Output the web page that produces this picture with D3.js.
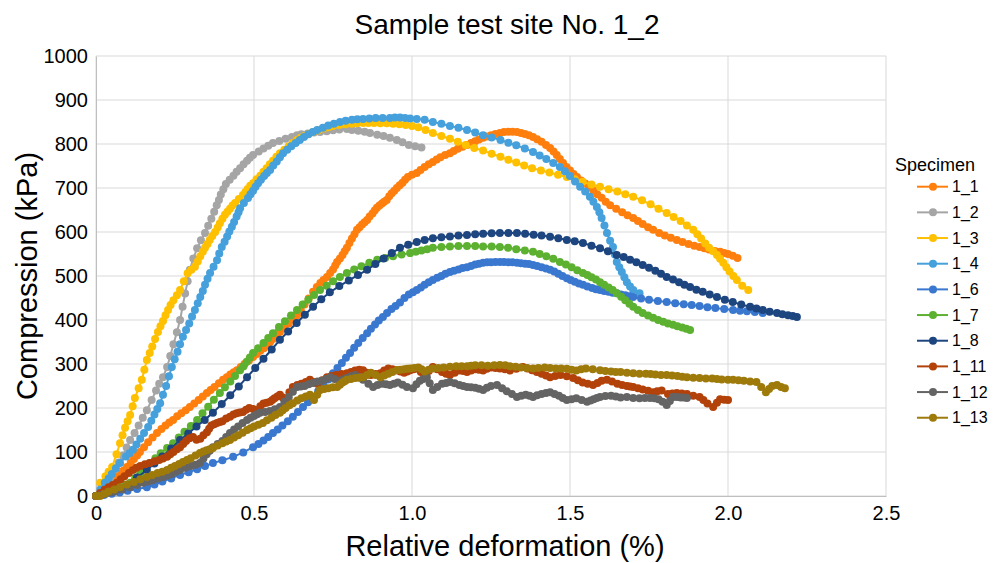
<!DOCTYPE html>
<html>
<head>
<meta charset="utf-8">
<script src="https://cdn.jsdelivr.net/npm/d3@7/dist/d3.min.js"></script>
<style>
  html, body { margin: 0; padding: 0; background: #fff; }
  svg { display: block; font-family: "Liberation Sans", Arial, sans-serif; }
</style>
</head>
<body>
<svg id="chart" width="994" height="563"></svg>
<script>
// Values: [relative deformation %, compression kPa]
const s1_1 = [[0,0],[.015,9],[.03,18],[.042,27],[.054,36],[.065,43],[.075,50],[.087,58],[.098,66],[.11,76],[.12,84],[.13,92],[.139,100],[.152,111],[.165,122],[.179,133],[.193,143],[.207,152],[.22,160],[.232,167],[.244,173],[.257,181],[.27,188],[.284,195],[.297,202],[.311,210],[.325,218],[.338,226],[.351,234],[.363,241],[.375,248],[.389,256],[.402,264],[.414,270],[.425,276],[.436,281],[.446,286],[.458,293],[.47,300],[.484,308],[.497,316],[.509,323],[.52,330],[.531,336],[.541,343],[.551,350],[.56,357],[.571,365],[.582,373],[.596,382],[.61,392],[.623,401],[.636,411],[.648,422],[.66,435],[.673,449],[.687,464],[.699,475],[.71,484],[.72,491],[.731,498],[.741,507],[.75,515],[.757,524],[.763,532],[.772,540],[.78,548],[.787,556],[.794,564],[.802,575],[.81,585],[.818,595],[.826,605],[.834,611],[.842,617],[.85,622],[.858,627],[.866,635],[.875,642],[.882,649],[.889,655],[.897,660],[.905,665],[.912,669],[.92,673],[.928,681],[.936,688],[.944,694],[.952,700],[.961,706],[.97,712],[.978,719],[.987,725],[1.0,730],[1.015,734],[1.027,741],[1.04,748],[1.053,754],[1.066,759],[1.078,765],[1.09,770],[1.105,775],[1.12,779],[1.132,784],[1.145,789],[1.16,794],[1.174,798],[1.187,802],[1.2,806],[1.212,810],[1.225,814],[1.237,817],[1.25,820],[1.264,823],[1.278,825],[1.291,827],[1.305,828],[1.318,828],[1.332,827],[1.345,825],[1.357,823],[1.37,820],[1.383,816],[1.396,811],[1.41,805],[1.424,798],[1.437,791],[1.448,783],[1.458,775],[1.468,766],[1.478,757],[1.489,748],[1.5,740],[1.511,732],[1.522,725],[1.535,717],[1.548,710],[1.56,702],[1.573,695],[1.586,686],[1.6,678],[1.613,669],[1.627,661],[1.646,653],[1.665,645],[1.682,638],[1.70,632],[1.715,625],[1.73,618],[1.747,611],[1.763,605],[1.782,598],[1.8,592],[1.819,587],[1.838,582],[1.856,577],[1.875,573],[1.893,569],[1.91,566],[1.925,563],[1.94,560],[1.958,557],[1.975,555],[1.988,552],[2.0,550],[2.015,546],[2.03,541]];
const s1_2 = [[0,0],[.015,12],[.03,25],[.045,42],[.06,60],[.072,76],[.085,92],[.097,110],[.108,127],[.122,143],[.135,160],[.148,178],[.161,195],[.176,218],[.19,240],[.2,255],[.212,270],[.225,293],[.235,318],[.245,345],[.256,372],[.266,400],[.274,430],[.282,460],[.29,488],[.297,514],[.308,540],[.32,563],[.332,581],[.345,598],[.355,614],[.365,630],[.374,646],[.382,661],[.389,673],[.395,685],[.403,697],[.411,709],[.423,719],[.435,728],[.445,737],[.456,745],[.467,754],[.478,762],[.487,769],[.497,775],[.515,783],[.53,790],[.545,796],[.56,802],[.58,807],[.6,812],[.62,816],[.636,820],[.65,822],[.67,824],[.69,826],[.709,827],[.73,829],[.75,831],[.77,833],[.794,834],[.81,832],[.83,830],[.85,828],[.867,825],[.89,821],[.91,818],[.93,814],[.952,809],[.97,804],[.99,798],[1.01,795],[1.03,792]];
const s1_3 = [[0,0],[.013,30],[.03,45],[.04,55],[.051,66],[.065,95],[.076,120],[.084,138],[.092,155],[.1,170],[.108,184],[.116,204],[.123,223],[.135,245],[.145,264],[.153,287],[.161,309],[.17,325],[.178,340],[.187,357],[.196,373],[.204,386],[.212,398],[.22,411],[.228,423],[.236,434],[.245,445],[.256,456],[.266,468],[.278,488],[.29,506],[.302,514],[.313,521],[.322,533],[.33,545],[.338,555],[.345,564],[.353,573],[.36,582],[.368,591],[.377,600],[.385,610],[.392,620],[.4,630],[.408,639],[.416,646],[.424,653],[.432,660],[.44,666],[.452,675],[.465,684],[.473,691],[.48,698],[.488,705],[.497,711],[.508,720],[.52,728],[.53,737],[.54,745],[.55,754],[.56,762],[.571,771],[.582,779],[.596,787],[.61,795],[.623,802],[.636,809],[.648,814],[.66,818],[.673,823],[.687,827],[.704,831],[.72,835],[.735,838],[.75,841],[.77,843],[.79,845],[.81,846],[.826,847],[.845,848],[.862,848],[.88,848],[.9,847],[.92,847],[.94,846],[.96,845],[.98,843],[1.0,841],[1.02,838],[1.043,832],[1.066,825],[1.093,818],[1.12,812],[1.145,805],[1.17,798],[1.197,791],[1.225,785],[1.252,778],[1.28,771],[1.305,764],[1.33,758],[1.355,751],[1.38,745],[1.408,740],[1.435,735],[1.462,730],[1.49,725],[1.515,720],[1.54,714],[1.568,708],[1.595,703],[1.622,697],[1.65,692],[1.675,686],[1.70,680],[1.728,672],[1.755,663],[1.78,653],[1.806,643],[1.828,634],[1.85,625],[1.87,615],[1.89,605],[1.903,595],[1.915,585],[1.928,574],[1.94,564],[1.953,556],[1.965,548],[1.975,539],[1.985,530],[1.995,520],[2.005,510],[2.017,500],[2.028,491],[2.045,478],[2.064,468]];
const s1_4 = [[0,0],[.014,15],[.028,30],[.04,40],[.05,50],[.063,63],[.076,75],[.095,90],[.106,97],[.117,105],[.128,117],[.14,130],[.152,143],[.165,157],[.175,171],[.185,185],[.194,198],[.203,211],[.212,230],[.222,250],[.231,272],[.24,293],[.249,311],[.258,328],[.266,345],[.275,362],[.285,377],[.295,392],[.304,408],[.313,423],[.322,438],[.33,452],[.338,466],[.345,480],[.353,494],[.361,507],[.372,521],[.383,536],[.39,551],[.398,566],[.407,578],[.415,590],[.422,601],[.43,612],[.437,623],[.445,635],[.451,645],[.456,654],[.468,666],[.481,677],[.489,686],[.497,694],[.505,703],[.513,711],[.522,719],[.532,727],[.541,734],[.551,741],[.561,751],[.572,760],[.582,770],[.592,779],[.605,787],[.618,795],[.632,802],[.645,809],[.658,816],[.672,822],[.686,827],[.70,832],[.718,837],[.735,842],[.753,846],[.772,850],[.79,853],[.81,855],[.827,856],[.845,857],[.865,858],[.885,859],[.907,859],[.93,859],[.946,860],[.962,860],[.978,859],[.994,858],[1.015,857],[1.04,855],[1.066,850],[1.093,846],[1.12,841],[1.147,837],[1.174,832],[1.2,826],[1.225,820],[1.252,815],[1.28,809],[1.305,803],[1.33,797],[1.357,790],[1.383,782],[1.404,774],[1.425,766],[1.447,757],[1.468,748],[1.484,738],[1.5,727],[1.516,715],[1.532,703],[1.548,692],[1.563,680],[1.574,669],[1.585,657],[1.593,645],[1.60,632],[1.609,615],[1.617,598],[1.627,580],[1.636,566],[1.642,549],[1.648,532],[1.656,520],[1.664,509],[1.672,497],[1.68,486],[1.69,476],[1.70,468],[1.72,461]];
const s1_6 = [[0,0],[.025,2],[.05,5],[.075,8],[.1,12],[.13,16],[.161,20],[.185,26],[.21,33],[.238,40],[.266,48],[.293,54],[.32,61],[.345,68],[.37,75],[.4,81],[.434,89],[.466,99],[.497,111],[.514,118],[.53,126],[.545,134],[.56,143],[.575,151],[.59,160],[.607,170],[.623,180],[.639,191],[.655,202],[.671,213],[.687,225],[.703,238],[.72,252],[.735,265],[.75,279],[.764,291],[.778,302],[.791,314],[.804,325],[.817,337],[.83,348],[.844,359],[.858,370],[.87,380],[.883,390],[.895,399],[.908,407],[.921,416],[.935,425],[.948,432],[.962,440],[.976,450],[.99,458],[1.003,463],[1.015,468],[1.028,474],[1.04,480],[1.053,486],[1.066,491],[1.08,496],[1.093,500],[1.106,505],[1.12,509],[1.133,512],[1.147,515],[1.16,518],[1.174,520],[1.187,523],[1.2,526],[1.212,528],[1.225,530],[1.238,531],[1.25,531],[1.264,532],[1.278,532],[1.291,532],[1.305,531],[1.318,531],[1.332,530],[1.345,529],[1.358,528],[1.37,527],[1.383,525],[1.396,523],[1.41,520],[1.424,517],[1.437,514],[1.45,510],[1.463,505],[1.476,500],[1.49,495],[1.502,491],[1.515,487],[1.528,483],[1.541,480],[1.555,476],[1.57,473],[1.582,470],[1.595,468],[1.608,466],[1.622,464],[1.635,462],[1.648,461],[1.661,458],[1.675,456],[1.688,454],[1.70,452],[1.725,449],[1.75,446],[1.778,443],[1.806,441],[1.833,438],[1.86,436],[1.885,434],[1.91,432],[1.935,429],[1.96,427],[1.988,425],[2.016,423],[2.038,421],[2.06,420],[2.085,418],[2.11,416]];
const s1_7 = [[0,0],[.025,6],[.05,12],[.065,16],[.08,20],[.094,25],[.108,30],[.124,41],[.14,52],[.155,63],[.17,75],[.188,86],[.205,97],[.225,109],[.244,120],[.262,133],[.28,146],[.3,159],[.32,173],[.337,188],[.355,203],[.373,219],[.392,234],[.408,247],[.425,260],[.44,273],[.456,286],[.467,295],[.477,305],[.487,315],[.497,325],[.513,336],[.53,348],[.545,359],[.56,370],[.579,384],[.598,397],[.617,410],[.636,423],[.654,435],[.672,446],[.69,457],[.709,468],[.73,478],[.75,488],[.772,498],[.794,507],[.817,515],[.84,522],[.865,530],[.89,537],[.915,541],[.94,545],[.967,549],[.994,552],[1.012,555],[1.03,558],[1.048,561],[1.066,564],[1.093,566],[1.12,567],[1.147,568],[1.174,568],[1.2,568],[1.225,567],[1.252,567],[1.278,566],[1.304,564],[1.33,561],[1.357,558],[1.383,555],[1.404,550],[1.425,545],[1.447,539],[1.468,532],[1.487,526],[1.505,520],[1.523,513],[1.541,507],[1.555,502],[1.568,497],[1.582,492],[1.595,486],[1.608,480],[1.622,474],[1.635,468],[1.648,461],[1.662,453],[1.675,445],[1.688,437],[1.70,430],[1.715,423],[1.73,416],[1.747,410],[1.763,405],[1.779,400],[1.795,396],[1.81,392],[1.826,389],[1.84,386],[1.855,383],[1.868,380],[1.88,377]];
const s1_8 = [[0,0],[.025,5],[.05,10],[.075,17],[.1,25],[.13,42],[.161,59],[.185,74],[.21,90],[.238,108],[.266,127],[.292,142],[.318,158],[.344,173],[.37,189],[.398,209],[.425,229],[.452,249],[.478,270],[.504,291],[.53,312],[.556,333],[.582,355],[.608,374],[.635,393],[.661,412],[.687,430],[.713,447],[.74,463],[.77,477],[.8,490],[.829,502],[.858,514],[.884,527],[.91,540],[.936,552],[.962,564],[.988,571],[1.015,577],[1.04,582],[1.066,586],[1.093,588],[1.12,590],[1.147,592],[1.174,593],[1.2,595],[1.225,596],[1.252,597],[1.278,598],[1.305,598],[1.332,598],[1.358,596],[1.385,594],[1.41,592],[1.437,589],[1.463,586],[1.49,582],[1.515,579],[1.541,575],[1.568,569],[1.595,563],[1.62,556],[1.648,548],[1.67,543],[1.69,537],[1.71,531],[1.73,525],[1.75,519],[1.77,512],[1.788,505],[1.806,498],[1.826,492],[1.845,486],[1.862,480],[1.88,475],[1.9,469],[1.92,464],[1.942,458],[1.965,452],[1.99,446],[2.015,441],[2.042,435],[2.07,430],[2.09,426],[2.11,423],[2.132,419],[2.155,416],[2.172,413],[2.19,411],[2.205,409],[2.218,407]];
const s1_11 = [[0,0],[.013,7],[.027,14],[.04,20],[.053,25],[.066,30],[.078,38],[.09,45],[.104,52],[.117,59],[.128,64],[.14,68],[.155,72],[.17,75],[.185,79],[.2,82],[.212,85],[.225,89],[.235,95],[.245,100],[.256,106],[.266,111],[.276,118],[.285,125],[.296,131],[.307,134],[.318,128],[.33,130],[.34,138],[.351,145],[.358,153],[.365,160],[.374,163],[.383,166],[.392,168],[.4,170],[.412,176],[.424,180],[.435,185],[.445,188],[.455,190],[.465,191],[.475,196],[.485,200],[.497,198],[.509,195],[.52,204],[.53,210],[.54,212],[.551,214],[.558,218],[.565,222],[.574,226],[.582,230],[.591,224],[.6,220],[.612,236],[.623,248],[.637,252],[.65,255],[.664,259],[.677,264],[.688,259],[.7,255],[.716,263],[.731,270],[.745,273],[.76,275],[.777,277],[.794,279],[.807,282],[.82,285],[.833,287],[.845,286],[.857,280],[.87,275],[.885,277],[.9,279],[.912,285],[.925,290],[.938,288],[.952,286],[.963,283],[.975,280],[.985,283],[.994,286],[1.005,288],[1.015,290],[1.028,282],[1.04,275],[1.053,284],[1.066,293],[1.08,288],[1.095,282],[1.108,278],[1.12,275],[1.135,280],[1.15,285],[1.162,284],[1.174,282],[1.187,285],[1.2,288],[1.212,287],[1.225,285],[1.237,289],[1.25,292],[1.264,291],[1.278,290],[1.294,288],[1.31,285],[1.33,289],[1.351,293],[1.365,290],[1.38,286],[1.395,282],[1.41,278],[1.424,274],[1.437,270],[1.453,273],[1.47,275],[1.49,272],[1.51,268],[1.525,263],[1.54,258],[1.556,255],[1.573,252],[1.587,257],[1.6,262],[1.617,264],[1.633,260],[1.65,255],[1.665,252],[1.68,250],[1.69,249],[1.70,248],[1.715,245],[1.73,242],[1.747,239],[1.763,236],[1.776,238],[1.79,240],[1.81,232],[1.824,233],[1.838,234],[1.854,233],[1.87,232],[1.89,228],[1.91,225],[1.922,218],[1.935,210],[1.953,202],[1.965,212],[1.975,220],[1.988,219],[2.0,218]];
const s1_12 = [[0,0],[.015,2],[.03,5],[.045,8],[.06,10],[.084,15],[.108,20],[.13,25],[.15,30],[.165,33],[.18,36],[.196,40],[.212,43],[.226,46],[.24,50],[.253,55],[.266,59],[.283,64],[.3,68],[.315,71],[.329,75],[.34,85],[.35,95],[.36,103],[.37,111],[.385,118],[.4,125],[.412,134],[.424,143],[.437,151],[.45,158],[.464,166],[.478,173],[.489,178],[.5,182],[.51,186],[.519,189],[.535,191],[.55,193],[.566,197],[.582,202],[.596,214],[.61,225],[.623,237],[.636,248],[.648,249],[.66,250],[.673,254],[.687,257],[.701,260],[.715,262],[.728,266],[.741,270],[.755,266],[.77,262],[.782,265],[.794,268],[.807,272],[.82,275],[.833,270],[.845,264],[.862,255],[.877,248],[.891,252],[.905,255],[.918,254],[.93,252],[.943,255],[.955,258],[.97,253],[.984,248],[1.003,245],[1.014,254],[1.025,262],[1.036,266],[1.047,270],[1.056,256],[1.066,241],[1.08,248],[1.095,255],[1.108,257],[1.12,259],[1.135,256],[1.15,252],[1.162,250],[1.174,248],[1.187,247],[1.2,246],[1.212,244],[1.225,241],[1.237,246],[1.25,250],[1.269,252],[1.285,245],[1.3,238],[1.316,232],[1.332,225],[1.346,228],[1.36,230],[1.372,228],[1.383,225],[1.396,229],[1.41,232],[1.424,234],[1.437,236],[1.451,232],[1.465,228],[1.477,223],[1.49,218],[1.505,220],[1.52,222],[1.537,218],[1.554,214],[1.565,217],[1.575,220],[1.585,223],[1.595,225],[1.612,227],[1.63,228],[1.645,226],[1.66,224],[1.68,225],[1.70,223],[1.72,222],[1.737,223],[1.753,223],[1.767,222],[1.78,220],[1.793,214],[1.806,207],[1.816,216],[1.826,225],[1.838,225],[1.85,224],[1.86,224],[1.87,223]];
const s1_13 = [[0,0],[.013,0],[.027,5],[.04,10],[.058,15],[.076,20],[.098,26],[.12,32],[.14,38],[.161,43],[.178,48],[.195,52],[.21,55],[.225,59],[.238,64],[.25,68],[.263,73],[.275,77],[.288,82],[.3,86],[.315,92],[.329,98],[.34,101],[.35,104],[.36,106],[.37,109],[.385,115],[.4,120],[.412,124],[.424,127],[.437,133],[.45,138],[.464,144],[.478,150],[.489,154],[.5,158],[.514,162],[.528,166],[.541,172],[.555,178],[.568,184],[.582,189],[.591,195],[.6,200],[.612,206],[.623,211],[.637,217],[.65,222],[.664,226],[.677,230],[.69,218],[.7,230],[.709,241],[.722,243],[.735,245],[.749,247],[.763,248],[.772,253],[.78,258],[.787,261],[.794,264],[.807,266],[.82,268],[.832,269],[.845,270],[.858,275],[.87,280],[.885,275],[.9,270],[.912,274],[.925,278],[.938,282],[.952,286],[.963,287],[.975,288],[.985,289],[.994,290],[1.007,291],[1.02,292],[1.03,288],[1.04,283],[1.053,287],[1.066,290],[1.083,291],[1.1,292],[1.12,294],[1.14,295],[1.157,295],[1.174,295],[1.187,296],[1.2,297],[1.22,297],[1.24,296],[1.26,297],[1.278,298],[1.295,297],[1.31,295],[1.328,294],[1.345,292],[1.364,291],[1.383,290],[1.4,291],[1.42,292],[1.437,291],[1.455,290],[1.472,290],[1.49,289],[1.505,287],[1.52,285],[1.535,288],[1.55,290],[1.572,288],[1.595,286],[1.612,284],[1.63,283],[1.645,282],[1.66,282],[1.68,280],[1.70,279],[1.72,278],[1.74,278],[1.755,277],[1.77,276],[1.788,275],[1.806,275],[1.823,274],[1.84,273],[1.855,271],[1.87,270],[1.89,269],[1.91,268],[1.93,267],[1.95,267],[1.965,266],[1.98,265],[2.0,264],[2.016,264],[2.033,263],[2.05,262],[2.07,260],[2.09,259],[2.105,248],[2.12,236],[2.13,243],[2.14,250],[2.155,252],[2.168,248],[2.18,245]];

const seriesNames = ['1_1', '1_2', '1_3', '1_4', '1_6', '1_7', '1_8', '1_11', '1_12', '1_13'];
const seriesData = [s1_1, s1_2, s1_3, s1_4, s1_6, s1_7, s1_8, s1_11, s1_12, s1_13];
const seriesColors = ['#ff7f0e', '#a5a5a5', '#ffc000', '#45a0dc', '#3a78d0', '#5db131', '#1d4680', '#b3420a', '#646464', '#9e7a0a'];
const xTicks = [0, 0.5, 1.0, 1.5, 2.0, 2.5];
const yTicks = [0, 100, 200, 300, 400, 500, 600, 700, 800, 900, 1000];

const svg = d3.select('#chart');
const margin = { left: 96, right: 108, top: 56, bottom: 67 };
const W = 994, H = 563;

const x = d3.scaleLinear().domain([0, 2.5]).range([margin.left, W - margin.right]);
const y = d3.scaleLinear().domain([0, 1000]).range([H - margin.bottom, margin.top]);

// Gridlines
svg.append('g')
    .selectAll('line')
    .data(xTicks)
    .join('line')
    .attr('x1', d => x(d)).attr('x2', d => x(d))
    .attr('y1', y(0)).attr('y2', y(1000))
    .attr('stroke', '#d9d9d9').attr('stroke-width', 1);

svg.append('g')
    .selectAll('line')
    .data(yTicks)
    .join('line')
    .attr('x1', x(0)).attr('x2', x(2.5))
    .attr('y1', d => y(d)).attr('y2', d => y(d))
    .attr('stroke', '#d9d9d9').attr('stroke-width', 1);

// Axes
const xAxis = svg.append('g')
    .attr('transform', `translate(0,${y(0)})`)
    .call(d3.axisBottom(x).tickValues(xTicks).tickSize(0).tickPadding(10)
        .tickFormat(d => d === 0 ? '0' : d3.format('.1f')(d)));
xAxis.select('.domain').attr('stroke', '#bfbfbf');

const yAxis = svg.append('g')
    .attr('transform', `translate(${x(0)},0)`)
    .call(d3.axisLeft(y).tickValues(yTicks).tickSize(0).tickPadding(8)
        .tickFormat(d3.format('d')));
yAxis.select('.domain').attr('stroke', '#bfbfbf');

svg.selectAll('.tick text')
    .attr('font-size', 20)
    .attr('fill', '#000')
    .attr('font-family', '"Liberation Sans", Arial, sans-serif');

// Series
const line = d3.line().x(d => x(d[0])).y(d => y(d[1]));

seriesData.forEach((data, i) => {
    const g = svg.append('g');
    g.append('path')
        .datum(data)
        .attr('d', line)
        .attr('fill', 'none')
        .attr('stroke', seriesColors[i])
        .attr('stroke-width', 2);
    g.selectAll('circle')
        .data(data)
        .join('circle')
        .attr('cx', d => x(d[0]))
        .attr('cy', d => y(d[1]))
        .attr('r', 4)
        .attr('fill', seriesColors[i]);
});

// Title and axis titles
svg.append('text')
    .attr('x', 507).attr('y', 34)
    .attr('text-anchor', 'middle')
    .attr('font-size', 28)
    .attr('font-family', '"Liberation Sans Narrow", "Liberation Sans", Arial, sans-serif')
    .text('Sample test site No. 1_2');

svg.append('text')
    .attr('x', 505).attr('y', 556)
    .attr('text-anchor', 'middle')
    .attr('font-size', 29)
    .text('Relative deformation (%)');

svg.append('text')
    .attr('transform', `translate(37,${(y(0) + y(1000)) / 2}) rotate(-90)`)
    .attr('text-anchor', 'middle')
    .attr('font-size', 29)
    .text('Compression (kPa)');

// Legend
const legend = svg.append('g').attr('transform', 'translate(893,0)');
legend.append('text')
    .attr('x', 2).attr('y', 171)
    .attr('font-size', 18)
    .text('Specimen');

const item = legend.selectAll('g')
    .data(seriesNames)
    .join('g')
    .attr('transform', (d, i) => `translate(0,${186.7 + i * 25.67})`);
item.append('line')
    .attr('x1', 24).attr('x2', 55)
    .attr('stroke', (d, i) => seriesColors[i])
    .attr('stroke-width', 2);
item.append('circle')
    .attr('cx', 40).attr('r', 4)
    .attr('fill', (d, i) => seriesColors[i]);
item.append('text')
    .attr('x', 59).attr('y', 5.5)
    .attr('font-size', 16)
    .text(d => d);
</script>
</body>
</html>
